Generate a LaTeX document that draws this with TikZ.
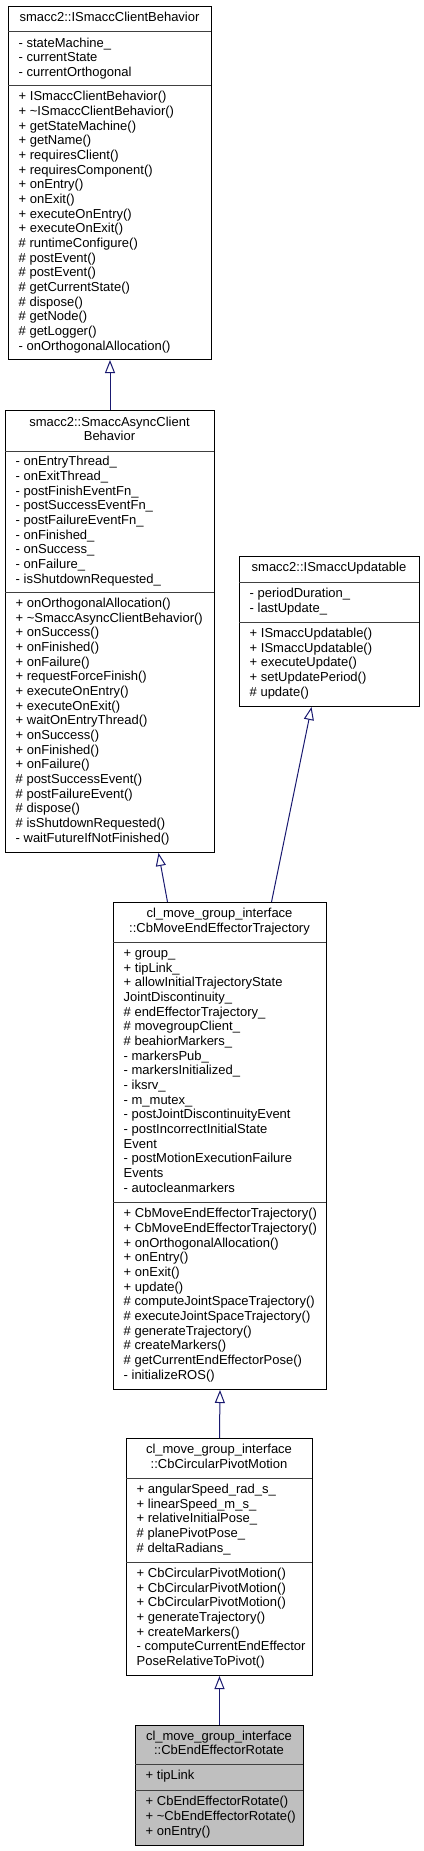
\documentclass[tikz,border=0pt]{standalone}
\usepackage{fontspec}
\setmainfont{Liberation Sans}
\usetikzlibrary{arrows.meta,calc}
\definecolor{edgeblue}{HTML}{191970}
\definecolor{sepgray}{HTML}{404040}
\definecolor{hilite}{HTML}{BFBFBF}
\newcommand{\fs}{\fontsize{13}{14.67}\selectfont}
\newcommand{\classbox}[8]{%
  \node[box,#8,minimum width={#3-#2},minimum height={#7-#4},anchor=north west] (#1) at (#2,-#4) {};
  \draw[sep] (#2,-#5) -- (#3,-#5);
  \draw[sep] (#2,-#6) -- (#3,-#6);
}
\begin{document}
\begin{tikzpicture}[x=1pt,y=1pt,
  box/.style={draw=black,line width=1pt,fill=white,inner sep=0pt},
  sep/.style={draw=sepgray,line width=1pt},
  ttl/.style={font=\fs,align=center,inner sep=0pt,anchor=center},
  mem/.style={font=\fs,align=left,inner sep=0pt,anchor=west},
  inh/.style={draw=edgeblue,line width=1pt,-{Triangle[open,length=13pt,width=10pt,fill=white]}}]
\useasboundingbox (0,0) rectangle (423,-1851);

% Box 1
\classbox{c1}{8}{211}{6}{32}{86}{359}{}
\node[ttl] (c1t) at (109.5,-19) {\strut smacc2::ISmaccClientBehavior};
\node[mem] (c1a) at (18.5,-59) {\strut - stateMachine\_\\\strut - currentState\\\strut - currentOrthogonal};
\node[mem] (c1m) at (18.5,-222.5) {\strut + ISmaccClientBehavior()\\\strut + \textasciitilde ISmaccClientBehavior()\\\strut + getStateMachine()\\\strut + getName()\\\strut + requiresClient()\\\strut + requiresComponent()\\\strut + onEntry()\\\strut + onExit()\\\strut + executeOnEntry()\\\strut + executeOnExit()\\\strut \# runtimeConfigure()\\\strut \# postEvent()\\\strut \# postEvent()\\\strut \# getCurrentState()\\\strut \# dispose()\\\strut \# getNode()\\\strut \# getLogger()\\\strut - onOrthogonalAllocation()};

% Box 2
\classbox{c2}{5}{214}{410}{451}{592}{852}{}
\node[ttl] (c2t) at (109.5,-430.5) {\strut smacc2::SmaccAsyncClient\\\strut Behavior};
\node[mem] (c2a) at (15.5,-521.5) {\strut - onEntryThread\_\\\strut - onExitThread\_\\\strut - postFinishEventFn\_\\\strut - postSuccessEventFn\_\\\strut - postFailureEventFn\_\\\strut - onFinished\_\\\strut - onSuccess\_\\\strut - onFailure\_\\\strut - isShutdownRequested\_};
\node[mem] (c2m) at (15.5,-722) {\strut + onOrthogonalAllocation()\\\strut + \textasciitilde SmaccAsyncClientBehavior()\\\strut + onSuccess()\\\strut + onFinished()\\\strut + onFailure()\\\strut + requestForceFinish()\\\strut + executeOnEntry()\\\strut + executeOnExit()\\\strut + waitOnEntryThread()\\\strut + onSuccess()\\\strut + onFinished()\\\strut + onFailure()\\\strut \# postSuccessEvent()\\\strut \# postFailureEvent()\\\strut \# dispose()\\\strut \# isShutdownRequested()\\\strut - waitFutureIfNotFinished()};

% Box 3
\classbox{c3}{239}{419}{556}{582}{622}{706}{}
\node[ttl] (c3t) at (329,-569) {\strut smacc2::ISmaccUpdatable};
\node[mem] (c3a) at (249.5,-602) {\strut - periodDuration\_\\\strut - lastUpdate\_};
\node[mem] (c3m) at (249.5,-664) {\strut + ISmaccUpdatable()\\\strut + ISmaccUpdatable()\\\strut + executeUpdate()\\\strut + setUpdatePeriod()\\\strut \# update()};

% Box 4
\classbox{c4}{113}{326}{902}{942}{1202}{1389}{}
\node[ttl] (c4t) at (219.5,-922) {\strut cl\_move\_group\_interface\\\strut ::CbMoveEndEffectorTrajectory};
\node[mem] (c4a) at (123.5,-1072) {\strut + group\_\\\strut + tipLink\_\\\strut + allowInitialTrajectoryState\\\strut JointDiscontinuity\_\\\strut \# endEffectorTrajectory\_\\\strut \# movegroupClient\_\\\strut \# beahiorMarkers\_\\\strut - markersPub\_\\\strut - markersInitialized\_\\\strut - iksrv\_\\\strut - m\_mutex\_\\\strut - postJointDiscontinuityEvent\\\strut - postIncorrectInitialState\\\strut Event\\\strut - postMotionExecutionFailure\\\strut Events\\\strut - autocleanmarkers};
\node[mem] (c4m) at (123.5,-1295.5) {\strut + CbMoveEndEffectorTrajectory()\\\strut + CbMoveEndEffectorTrajectory()\\\strut + onOrthogonalAllocation()\\\strut + onEntry()\\\strut + onExit()\\\strut + update()\\\strut \# computeJointSpaceTrajectory()\\\strut \# executeJointSpaceTrajectory()\\\strut \# generateTrajectory()\\\strut \# createMarkers()\\\strut \# getCurrentEndEffectorPose()\\\strut - initializeROS()};

% Box 5
\classbox{c5}{126}{312}{1438}{1478}{1562}{1675}{}
\node[ttl] (c5t) at (219,-1458) {\strut cl\_move\_group\_interface\\\strut ::CbCircularPivotMotion};
\node[mem] (c5a) at (136.5,-1520) {\strut + angularSpeed\_rad\_s\_\\\strut + linearSpeed\_m\_s\_\\\strut + relativeInitialPose\_\\\strut \# planePivotPose\_\\\strut \# deltaRadians\_};
\node[mem] (c5m) at (136.5,-1618.5) {\strut + CbCircularPivotMotion()\\\strut + CbCircularPivotMotion()\\\strut + CbCircularPivotMotion()\\\strut + generateTrajectory()\\\strut + createMarkers()\\\strut - computeCurrentEndEffector\\\strut PoseRelativeToPivot()};

% Box 6
\classbox{c6}{135}{303}{1725}{1764}{1790}{1845}{fill=hilite}
\node[ttl] (c6t) at (219,-1744.5) {\strut cl\_move\_group\_interface\\\strut ::CbEndEffectorRotate};
\node[mem] (c6a) at (145.5,-1777) {\strut + tipLink};
\node[mem] (c6m) at (145.5,-1817.5) {\strut + CbEndEffectorRotate()\\\strut + \textasciitilde CbEndEffectorRotate()\\\strut + onEntry()};

% Inheritance arrows
\draw[inh] (c2.north) -- (c1.south);
\draw[inh] ($(c4.north)+(-52.5,0)$) -- ($(c2.south)+(48.5,0)$);
\draw[inh] ($(c4.north)+(51.5,0)$) -- ($(c3.south)+(-18,0)$);
\draw[inh] (c5.north) -- (c4.south);
\draw[inh] (c6.north) -- (c5.south);
\end{tikzpicture}
\end{document}
